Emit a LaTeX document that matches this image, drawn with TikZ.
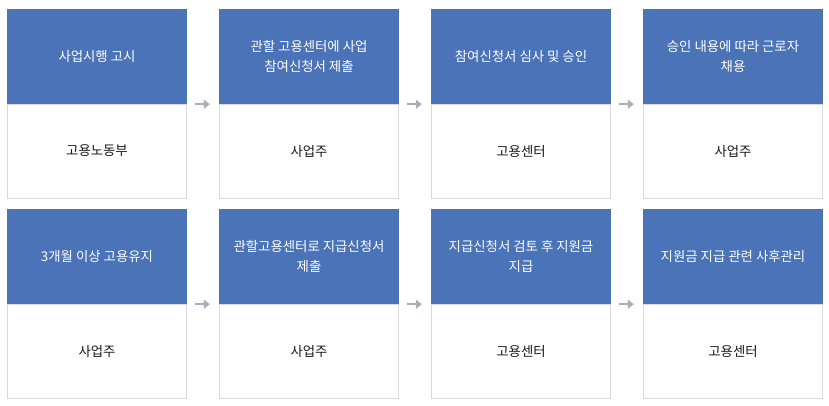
\documentclass[tikz,border=0pt]{standalone}
\usepackage{fontspec}
\usepackage{xcolor}
\usepackage{tikz}
\usetikzlibrary{arrows.meta}
\newfontfamily\krfont{Noto Sans CJK KR}
\definecolor{stepblue}{HTML}{4A73B8}
\definecolor{boxgray}{HTML}{D9D9D9}
\definecolor{arrgray}{HTML}{A8ADB7}

\begin{document}
\begin{tikzpicture}[x=1pt, y=-1pt,
    head/.style={rectangle, fill=stepblue, text=white, minimum width=180pt, minimum height=95pt,
      inner sep=0pt, align=center, font=\krfont\fontsize{13.4}{20}\selectfont},
    foot/.style={rectangle, draw=boxgray, line width=1pt, fill=white, minimum width=179pt, minimum height=94pt,
      inner sep=0pt, text=black!90, font=\krfont\fontsize{13.4}{20}\selectfont},
    arr/.style={-{Triangle[length=6pt, width=9pt]}, color=arrgray, line width=1.5pt,
      shorten <=8pt, shorten >=9pt}]
  \useasboundingbox (0,0) rectangle (829,405);
  % first row
  \foreach \x/\hd/\ft [count=\xi from 1] in {97/사업시행 고시/고용노동부,
      309/관할 고용센터에 사업\\참여신청서 제출/사업주,
      521/참여신청서 심사 및 승인/고용센터,
      733/승인 내용에 따라 근로자\\채용/사업주}{%
    \node[foot] (b\xi) at (\x, 151) {\ft};
    \node[head] (t\xi) at (\x, 56.5) {\hd};
  }
  % second row
  \foreach \x/\hd/\ft [count=\xi from 5] in {97/3개월 이상 고용유지/사업주,
      309/관할고용센터로 지급신청서\\제출/사업주,
      521/지급신청서 검토 후 지원금\\지급/고용센터,
      733/지원금 지급 관련 사후관리/고용센터}{%
    \node[foot] (b\xi) at (\x, 351) {\ft};
    \node[head] (t\xi) at (\x, 256.5) {\hd};
  }

  \foreach \a/\b in {1/2, 2/3, 3/4, 5/6, 6/7, 7/8}{
    \draw[arr] (t\a.south east) -- (t\b.south west);
  }
\end{tikzpicture}
\end{document}
